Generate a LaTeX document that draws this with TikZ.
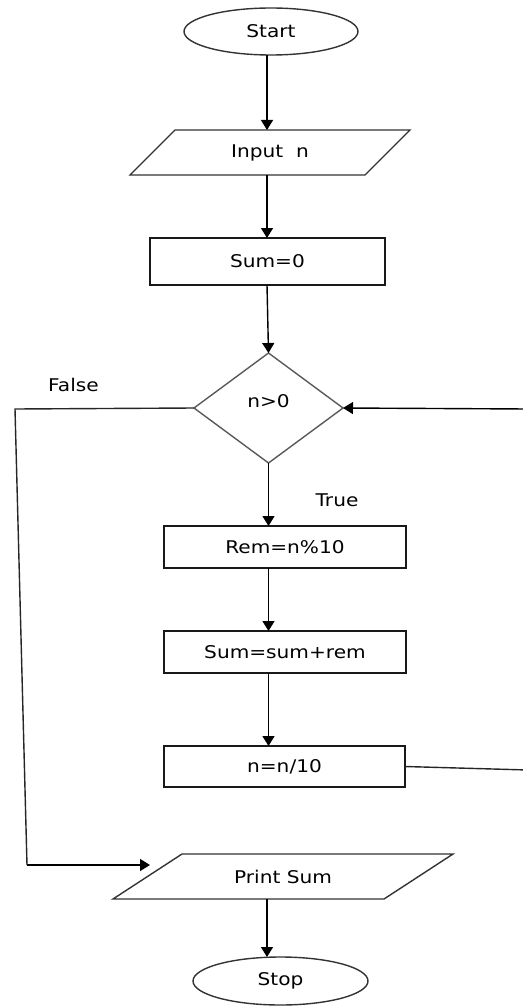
\documentclass[tikz,border=0pt]{standalone}
\usepackage{fontspec}
\setmainfont{DejaVu Sans}[FakeStretch=1.15]
\usetikzlibrary{shapes.geometric,arrows.meta,calc}

\begin{document}
\begin{tikzpicture}[x=1pt,y=-1pt,
    every node/.style={font=\fontsize{17.5}{20}\selectfont, inner sep=0pt, outer sep=0pt},
    shapeline/.style={draw=black!80, line width=1.4pt},
    terminal/.style={shapeline, ellipse, minimum width=174pt, minimum height=47pt},
    process/.style={shapeline, draw=black!90, rectangle, minimum width=242pt, minimum height=42pt},
    iobody/.style={rectangle, minimum height=45pt},
    decision/.style={shapeline, draw=black!65, diamond, minimum width=149pt, minimum height=110pt, aspect=1.35},
    flow/.style={draw=black, line width=1.4pt, -{Triangle[width=12pt,length=10pt]}},
    plain/.style={draw=black!85, line width=1.4pt},
    tag/.style={anchor=center}
  ]
  \useasboundingbox (0,0) rectangle (522,1006);

  % spine of the vertical connectors
  \coordinate (spine) at (267,0);

  % terminals and process boxes
  \node[terminal] (start) at (271,31.5) {Start};
  \node[iobody, minimum width=235pt] (input) at (270,152.5) {Input\ \ n};
  \node[process, minimum width=235pt, minimum height=47pt] (sum0) at (267.5,261.5) {Sum=0};
  \node[decision] (dec) at (268.5,408) {\raisebox{13pt}{n>0}};
  \node[process] (rem) at (285,547) {Rem=n\%10};
  \node[process] (acc) at (285,652) {Sum=sum+rem};
  \node[process, minimum width=241pt, minimum height=41pt] (div) at (284.5,766.5) {n=n/10};
  \node[iobody, minimum width=271pt] (print) at (283,876.5) {Print Sum};
  \node[terminal, minimum width=175pt, minimum height=48pt] (stop) at (280.5,981) {Stop};

  % slanted sides of the input/output boxes
  \draw[shapeline] ($(input.north west)+(22.5,0)$) -- ($(input.north east)+(22.5,0)$)
     -- ($(input.south east)+(-22.5,0)$) -- ($(input.south west)+(-22.5,0)$) -- cycle;
  \draw[shapeline] ($(print.north west)+(34.5,0)$) -- ($(print.north east)+(34.5,0)$)
     -- ($(print.south east)+(-34.5,0)$) -- ($(print.south west)+(-34.5,0)$) -- cycle;

  % branch labels
  \node[tag] (lfalse) at (73.5,385) {False};
  \node[tag] (ltrue) at (337,500) {True};

  % main flow
  \draw[flow] (start.south -| spine) -- (input.north -| spine);
  \draw[flow] (input.south -| spine) -- (sum0.north -| spine);
  \draw[flow] (sum0.north -| spine) ++(0,47) -- (dec.north);
  \draw[flow] (dec.south) -- (rem.north -| dec.south);
  \draw[flow] (rem.south -| dec.south) -- (acc.north -| dec.south);
  \draw[flow] (acc.south -| dec.south) -- (div.north -| dec.south);
  \draw[flow] (print.south -| spine) -- (stop.north -| spine);

  % false branch to the output
  \coordinate (fTop) at (15,409);
  \coordinate (fBot) at (27,865);
  \coordinate (fEnd) at (150,865);
  \draw[plain] (dec.west) -- (fTop) -- (fBot);
  \draw[flow] (fBot) -- (fEnd);

  % loop back to the test
  \coordinate (lBot) at (528,770);
  \coordinate (lTop) at (528,409);
  \draw[plain] (div.east) -- (lBot) -- (lTop);
  \draw[flow] (lTop) -- (dec.east);
\end{tikzpicture}
\end{document}
